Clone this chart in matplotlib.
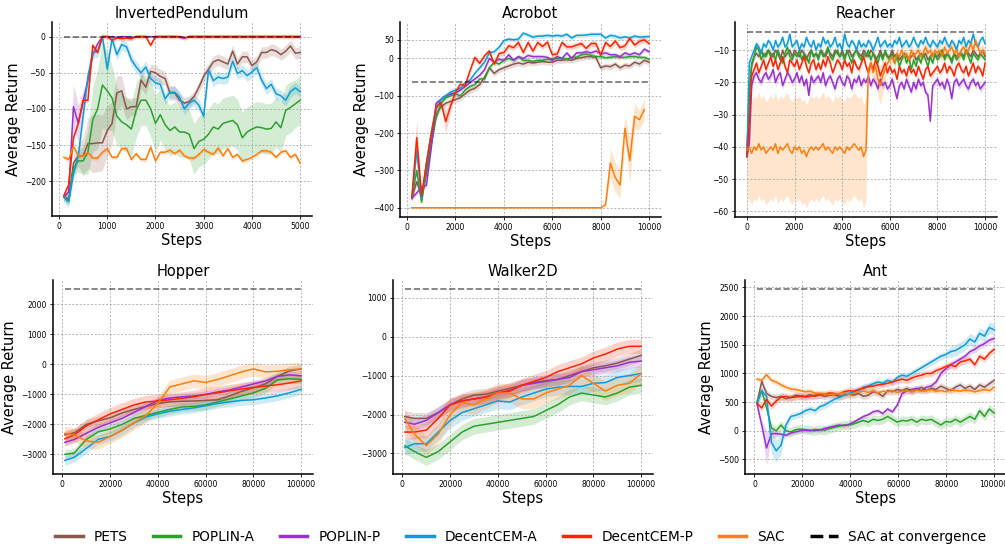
import numpy as np
import matplotlib
matplotlib.use('Agg')
import matplotlib.pyplot as plt
from matplotlib.lines import Line2D

methods = ['PETS', 'POPLIN-A', 'POPLIN-P', 'DecentCEM-A', 'DecentCEM-P', 'SAC']
colors = ['#8c564b', '#2ca02c', '#9932cc', '#0f9bd7', '#ff2400', '#ff7f0e']

# ---------------- InvertedPendulum ----------------
ip_x = np.arange(100, 5001, 100)
ip_conv = 0
ip_pets = [-222, -225, -175, -165, -165, -148, -148, -147, -147, -130,
           -120, -78, -75, -100, -97, -97, -60, -70, -48, -50,
           -55, -58, -78, -78, -88, -92, -90, -83, -70, -55,
           -45, -35, -32, -35, -38, -20, -38, -28, -28, -40,
           -35, -22, -22, -18, -20, -25, -20, -13, -23, -22]
ip_popa = [-222, -228, -182, -172, -172, -160, -115, -100, -67, -75,
           -85, -110, -118, -122, -128, -102, -88, -88, -100, -120,
           -108, -122, -130, -125, -132, -132, -135, -155, -145, -142,
           -135, -125, -128, -120, -118, -116, -122, -140, -132, -128,
           -125, -126, -128, -127, -118, -126, -102, -98, -93, -88]
ip_popp = [-222, -215, -97, -120, -90, -60, -25, -10, 0, 0,
           0, -1, 0, 0, -1, 0, 0, 0, 0, 0,
           0, 0, 0, 0, -1, -2, 0, 0, 0, 0,
           0, 0, 0, 0, 0, 0, 0, 0, 0, 0,
           0, 0, 0, 0, 0, 0, 0, 0, 0, 0]
ip_dcema = [-222, -228, -190, -165, -110, -55, -22, -21, 0, -45,
            -3, -25, -11, -14, -32, -42, -50, -42, -58, -64,
            -66, -86, -77, -77, -84, -100, -92, -88, -95, -110,
            -46, -61, -56, -58, -56, -34, -51, -47, -54, -49,
            -43, -60, -72, -66, -79, -82, -88, -76, -71, -76]
ip_dcemp = [-220, -205, -140, -120, -88, -88, -12, -22, 0, 0,
            -5, -2, -3, -2, -3, 0, 0, 0, -12, 0,
            0, 0, 0, 0, 0, -2, 0, 0, 0, 0,
            0, 0, 0, 0, 0, 0, 0, 0, 0, 0,
            0, 0, 0, 0, 0, 0, 0, 0, 0, 0]
ip_sac = [-167, -170, -152, -165, -165, -160, -168, -168, -160, -155,
          -167, -167, -155, -155, -170, -162, -170, -170, -153, -172,
          -160, -160, -157, -162, -157, -165, -168, -168, -163, -156,
          -160, -163, -154, -165, -155, -167, -163, -172, -170, -167,
          -163, -158, -158, -160, -167, -160, -158, -167, -163, -175]
ip_pets_sd = [5, 5, 10, 15, 25, 35, 40, 40, 38, 35,
              30, 25, 20, 15, 12, 12, 12, 10, 10, 10,
              10, 10, 10, 10, 10, 8, 8, 8, 8, 8,
              8, 8, 8, 8, 8, 8, 8, 8, 8, 8,
              8, 8, 8, 8, 8, 8, 8, 8, 8, 8]
ip_popa_sd = [5, 5, 10, 15, 20, 30, 45, 55, 60, 55,
              45, 40, 38, 38, 38, 38, 35, 35, 38, 40,
              35, 35, 35, 35, 35, 35, 35, 35, 35, 35,
              35, 35, 35, 35, 35, 35, 35, 35, 35, 35,
              35, 35, 35, 35, 35, 35, 35, 35, 33, 33]
ip_popp_sd = [5, 5, 30, 25, 15, 8, 5, 3, 1, 1,
              1, 1, 1, 1, 1, 1, 1, 1, 1, 1,
              1, 1, 1, 1, 1, 1, 1, 1, 1, 1,
              1, 1, 1, 1, 1, 1, 1, 1, 1, 1,
              1, 1, 1, 1, 1, 1, 1, 1, 1, 1]
ip_dcema_sd = 8
ip_dcemp_sd = 3
ip_sac_sd = 3

# ---------------- Acrobot ----------------
ac_x = np.arange(200, 10001, 200)
ac_sac_x = np.arange(200, 9801, 200)
ac_conv = -62
ac_pets = [-375, -330, -370, -310, -230, -150, -130, -120, -115, -110,
           -105, -95, -85, -80, -70, -50, -25, -40, -30, -25,
           -20, -15, -12, -15, -10, -12, -10, -8, -10, -10,
           -5, -5, -3, -5, 0, 2, 5, 5, 3, -25,
           -20, -22, -15, -25, -18, -20, -10, -15, -5, -10]
ac_popa = [-375, -300, -385, -300, -230, -160, -120, -105, -100, -95,
           -100, -85, -75, -70, -55, -55, -25, -10, -15, -5,
           0, -5, 5, -5, -5, -8, -5, -5, -2, 0,
           0, 0, -2, 3, 3, 10, 12, 8, 5, 5,
           2, 3, 5, 3, 3, 5, 5, 3, 3, -2]
ac_popp = [-375, -360, -345, -340, -240, -120, -110, -100, -95, -92,
           -85, -75, -65, -55, -45, -30, 0, -10, -2, -5,
           10, -5, 5, 0, 8, 5, 5, 5, 3, -5,
           5, 0, 15, 0, 15, 15, 18, 15, 20, 12,
           15, 10, 10, 5, 15, 10, 15, 10, 25, 18]
ac_dcema = [-375, -245, -375, -280, -200, -135, -110, -100, -90, -85,
            -80, -65, -58, -40, -25, -10, 15, 18, 30, 48,
            52, 50, 52, 68, 63, 57, 60, 60, 62, 60,
            62, 60, 65, 55, 62, 62, 63, 65, 65, 65,
            55, 62, 60, 55, 58, 55, 60, 57, 58, 59]
ac_dcemp = [-372, -212, -368, -283, -203, -131, -118, -169, -127, -91,
            -69, -73, -33, 3, -13, 7, 20, -15, 13, 16,
            34, 29, 43, 16, 43, 20, 43, 32, 44, 10,
            12, 43, 31, 31, 36, 40, 27, 40, 40, 9,
            43, 32, 47, 29, 34, 54, 36, 46, 50, 40]
ac_sac = [-400] * 40 + [-392, -280, -319, -339, -187, -274, -155, -164, -137]
ac_pets_sd = 8
ac_popa_sd = 6
ac_popp_sd = 6
ac_dcema_sd = [10, 20, 15, 30, 30, 20, 10, 8, 8, 8] + [6] * 40
ac_dcemp_sd = [10, 45, 15, 20, 20, 15, 10, 30, 15, 10] + [8] * 40
ac_sac_sd = [1] * 40 + [3, 40, 40, 35, 35, 60, 35, 25, 30]

# ---------------- Reacher ----------------
re_x = np.arange(0, 10001, 100)
re_conv = -4.4
re_pets = [-43, -24, -15, -12, -11, -12, -10, -12, -11, -10,
           -11, -12, -10, -11, -13, -10, -12, -11, -10, -12,
           -10, -11, -12, -10, -11, -13, -11, -10, -12, -11,
           -12, -10, -11, -12, -10, -11, -12, -10, -11, -12,
           -10, -12, -11, -10, -12, -11, -10, -11, -12, -10,
           -11, -12, -10, -11, -13, -12, -10, -12, -11, -12,
           -12, -10, -12, -11, -13, -12, -11, -12, -13, -12,
           -11, -13, -12, -11, -12, -11, -13, -12, -11, -12,
           -12, -11, -10, -12, -11, -12, -13, -11, -12, -11,
           -11, -12, -10, -11, -12, -10, -11, -12, -11, -10, -12]
re_popa = [-43, -22, -14, -12, -9, -10, -13, -11, -12, -10,
           -12, -11, -13, -10, -12, -14, -11, -9, -12, -13,
           -11, -12, -10, -13, -11, -12, -14, -10, -12, -11,
           -13, -10, -12, -11, -9, -12, -13, -11, -10, -12,
           -11, -13, -10, -12, -14, -11, -10, -12, -13, -11,
           -12, -10, -13, -11, -12, -14, -11, -13, -10, -12,
           -13, -11, -14, -12, -15, -13, -11, -14, -12, -16,
           -13, -15, -12, -14, -11, -13, -15, -12, -14, -11,
           -13, -12, -10, -13, -11, -12, -14, -11, -13, -12,
           -11, -13, -10, -12, -14, -11, -12, -13, -11, -12, -13]
re_popp = [-43, -39, -21, -18, -17, -19, -20, -18, -17, -19,
           -18, -16, -20, -18, -17, -21, -19, -17, -18, -20,
           -19, -17, -20, -18, -21, -19, -24, -18, -20, -19,
           -18, -20, -17, -21, -19, -18, -20, -22, -19, -18,
           -20, -21, -18, -19, -22, -19, -20, -18, -21, -19,
           -20, -18, -21, -19, -20, -22, -19, -21, -20, -22,
           -21, -19, -22, -25, -21, -20, -22, -19, -21, -23,
           -20, -22, -19, -21, -20, -23, -24, -32, -21, -20,
           -19, -21, -20, -22, -19, -21, -25, -20, -19, -21,
           -20, -19, -21, -22, -20, -19, -21, -20, -22, -21, -20]
re_dcema = [-43, -14, -12, -10, -8, -9, -11, -8, -9, -7,
            -8, -10, -7, -9, -8, -6, -9, -8, -5, -9,
            -8, -7, -10, -8, -9, -6, -8, -9, -7, -10,
            -8, -9, -6, -8, -7, -9, -8, -6, -9, -8,
            -10, -5, -8, -9, -7, -8, -10, -7, -9, -8,
            -9, -7, -8, -10, -8, -6, -9, -8, -7, -9,
            -8, -9, -7, -8, -6, -9, -8, -7, -9, -8,
            -6, -8, -9, -7, -8, -6, -8, -9, -7, -8,
            -9, -7, -8, -6, -8, -9, -7, -8, -10, -7,
            -8, -6, -9, -7, -8, -5, -8, -9, -7, -6, -8]
re_dcemp = [-43, -33, -18, -16, -14, -17, -15, -13, -16, -14,
            -12, -15, -13, -16, -14, -12, -15, -17, -13, -14,
            -15, -13, -16, -14, -12, -15, -17, -14, -13, -16,
            -14, -16, -13, -15, -12, -14, -17, -15, -13, -14,
            -16, -13, -15, -14, -17, -13, -15, -16, -14, -12,
            -15, -17, -14, -16, -13, -15, -18, -16, -14, -17,
            -15, -17, -16, -19, -15, -17, -16, -18, -15, -17,
            -16, -18, -15, -17, -19, -16, -15, -18, -17, -16,
            -15, -17, -16, -14, -17, -15, -16, -18, -15, -14,
            -16, -17, -15, -18, -16, -14, -17, -15, -16, -18, -14]
re_sac = [-41, -40, -42, -40, -41, -39, -41, -40, -42, -41,
          -40, -41, -39, -42, -40, -41, -40, -39, -41, -42,
          -40, -41, -40, -42, -41, -43, -41, -40, -41, -40,
          -41, -40, -39, -41, -40, -41, -42, -40, -41, -40,
          -41, -42, -40, -41, -40, -39, -40, -41, -40, -43,
          -41, -16, -14, -17, -15, -19, -21, -18, -16, -14,
          -13, -12, -14, -11, -12, -10, -12, -11, -13, -10,
          -12, -11, -10, -12, -11, -9, -11, -10, -12, -10,
          -11, -10, -12, -9, -11, -10, -9, -11, -10, -12,
          -10, -9, -11, -10, -8, -10, -7, -9, -11, -10, -11]
re_pets_sd = 1.0
re_popa_sd = 1.0
re_popp_sd = 1.2
re_dcema_sd = 1.0
re_dcemp_sd = 1.0
re_sac_sd = [16] * 51 + [2, 3, 3, 4, 5, 6, 5, 3, 3] + [2] * 41

# ---------------- Hopper ----------------
ho_x = np.array([1000, 5000, 10000, 15000, 20000, 25000, 30000, 35000, 40000, 45000, 50000,
                 55000, 60000, 65000, 70000, 75000, 80000, 85000, 90000, 95000, 100000])
ho_conv = 2520
ho_pets = [-2350, -2280, -2000, -1880, -1780, -1620, -1500, -1400, -1300, -1250, -1230,
           -1220, -1200, -1180, -1050, -900, -780, -650, -400, -220, -150]
ho_popa = [-3000, -2950, -2500, -2250, -2150, -2000, -1800, -1700, -1600, -1500, -1420,
           -1400, -1350, -1250, -1150, -1050, -950, -800, -520, -480, -500]
ho_popp = [-2600, -2500, -2300, -2100, -1950, -1800, -1600, -1400, -1200, -1120, -1080,
           -1050, -1000, -920, -850, -750, -650, -550, -400, -350, -380]
ho_dcema = [-3200, -3100, -2800, -2500, -2400, -2200, -1950, -1750, -1650, -1560, -1500,
            -1450, -1380, -1300, -1250, -1200, -1180, -1120, -1050, -950, -830]
ho_dcemp = [-2480, -2350, -2050, -1850, -1650, -1500, -1350, -1250, -1220, -1180, -1130,
            -1080, -1000, -950, -880, -820, -770, -720, -680, -620, -550]
ho_sac = [-2300, -2350, -2550, -2600, -2400, -2200, -1950, -1700, -1300, -750, -650,
          -550, -600, -500, -380, -250, -150, -250, -230, -180, -150]
ho_pets_sd = 150
ho_popa_sd = 150
ho_popp_sd = 120
ho_dcema_sd = 160
ho_dcemp_sd = 220
ho_sac_sd = 230

# ---------------- Walker2D ----------------
wa_x = ho_x
wa_conv = 1225
wa_pets = [-2050, -2100, -2100, -1950, -1750, -1600, -1500, -1480, -1400, -1330, -1250,
           -1180, -1130, -1100, -1000, -900, -800, -750, -680, -580, -480]
wa_popa = [-2800, -2950, -3100, -2950, -2700, -2450, -2300, -2250, -2200, -2150, -2100,
           -2050, -1900, -1750, -1550, -1450, -1500, -1550, -1450, -1300, -1250]
wa_popp = [-2200, -2250, -2150, -1950, -1750, -1650, -1600, -1550, -1450, -1400, -1250,
           -1200, -1150, -1100, -1050, -900, -850, -800, -750, -660, -630]
wa_dcema = [-2850, -2750, -2750, -2450, -2150, -1950, -1850, -1750, -1650, -1680, -1550,
            -1450, -1350, -1300, -1280, -1280, -1200, -1180, -1050, -1000, -950]
wa_dcemp = [-2450, -2450, -2400, -2100, -1750, -1650, -1600, -1550, -1450, -1380, -1250,
            -1150, -1050, -900, -800, -700, -550, -450, -320, -250, -250]
wa_sac = [-2100, -2500, -2800, -2500, -2000, -1700, -1750, -1600, -1450, -1450, -1600,
          -1600, -1450, -1350, -1250, -1000, -1200, -1400, -1250, -1200, -950]
wa_pets_sd = 150
wa_popa_sd = 200
wa_popp_sd = 150
wa_dcema_sd = 200
wa_dcemp_sd = 180
wa_sac_sd = 250

# ---------------- Ant ----------------
an_x = np.linspace(1000, 100000, 50)
an_conv = 2476
an_pets = [480, 860, 650, 600, 580, 600, 560, 580, 620, 610,
           600, 630, 600, 630, 600, 620, 630, 600, 620, 640,
           620, 650, 600, 620, 680, 660, 600, 700, 680, 720,
           700, 740, 680, 720, 760, 700, 740, 720, 780, 740,
           700, 760, 800, 740, 780, 720, 800, 760, 820, 880]
an_popa = [480, 700, 400, 50, 0, 100, 0, -20, 20, 30,
           20, 10, 0, 20, 10, 40, 60, 80, 100, 100,
           120, 150, 180, 150, 200, 180, 200, 250, 200, 150,
           180, 170, 200, 150, 200, 180, 200, 150, 100, 160,
           150, 200, 150, 200, 250, 200, 350, 250, 380, 310]
an_popp = [480, 100, -300, -50, -50, -60, -80, -40, -20, 0,
           10, 0, 20, 10, 40, 60, 80, 100, 90, 110,
           150, 200, 250, 280, 330, 350, 300, 380, 330, 450,
           650, 700, 720, 740, 700, 760, 780, 850, 1000, 1080,
           1150, 1200, 1250, 1300, 1380, 1420, 1480, 1520, 1580, 1610]
an_dcema = [480, 700, 600, -200, -350, -250, 100, 250, 270, 300,
            350, 380, 350, 420, 450, 500, 550, 580, 620, 650,
            680, 700, 760, 780, 820, 850, 830, 880, 850, 930,
            970, 950, 1000, 1050, 1100, 1150, 1200, 1250, 1300, 1330,
            1380, 1400, 1450, 1500, 1600, 1550, 1700, 1650, 1800, 1760]
an_dcemp = [480, 400, 550, 430, 520, 590, 600, 580, 590, 600,
            590, 600, 620, 630, 640, 660, 650, 640, 680, 700,
            690, 720, 740, 770, 780, 800, 810, 830, 850, 880,
            900, 880, 920, 950, 970, 1000, 1000, 1050, 1080, 1120,
            1150, 1120, 1200, 1220, 1250, 1150, 1300, 1250, 1350, 1420]
an_sac = [900, 880, 980, 880, 850, 800, 760, 730, 720, 700,
          680, 690, 660, 650, 640, 630, 640, 650, 660, 640,
          650, 680, 690, 670, 700, 660, 690, 680, 700, 670,
          690, 700, 680, 710, 690, 700, 720, 690, 700, 680,
          720, 700, 690, 710, 700, 680, 700, 720, 700, 760]
an_pets_sd = 60
an_popa_sd = 80
an_popp_sd = [60, 100, 300, 80, 60] + [40] * 25 + [60] * 20
an_dcema_sd = [60, 80, 120, 200, 200, 150, 80] + [60] * 33 + [100] * 10
an_dcemp_sd = 60
an_sac_sd = 50

panels = [
    ('InvertedPendulum', [ip_x] * 6,
     [ip_pets, ip_popa, ip_popp, ip_dcema, ip_dcemp, ip_sac],
     [ip_pets_sd, ip_popa_sd, ip_popp_sd, ip_dcema_sd, ip_dcemp_sd, ip_sac_sd], ip_conv, True, None),
    ('Acrobot', [ac_x] * 5 + [ac_sac_x],
     [ac_pets, ac_popa, ac_popp, ac_dcema, ac_dcemp, ac_sac],
     [ac_pets_sd, ac_popa_sd, ac_popp_sd, ac_dcema_sd, ac_dcemp_sd, ac_sac_sd], ac_conv, True,
     [-400, -300, -200, -100, 0, 50]),
    ('Reacher', [re_x] * 6,
     [re_pets, re_popa, re_popp, re_dcema, re_dcemp, re_sac],
     [re_pets_sd, re_popa_sd, re_popp_sd, re_dcema_sd, re_dcemp_sd, re_sac_sd], re_conv, False, None),
    ('Hopper', [ho_x] * 6,
     [ho_pets, ho_popa, ho_popp, ho_dcema, ho_dcemp, ho_sac],
     [ho_pets_sd, ho_popa_sd, ho_popp_sd, ho_dcema_sd, ho_dcemp_sd, ho_sac_sd], ho_conv, True, None),
    ('Walker2D', [wa_x] * 6,
     [wa_pets, wa_popa, wa_popp, wa_dcema, wa_dcemp, wa_sac],
     [wa_pets_sd, wa_popa_sd, wa_popp_sd, wa_dcema_sd, wa_dcemp_sd, wa_sac_sd], wa_conv, False, None),
    ('Ant', [an_x] * 6,
     [an_pets, an_popa, an_popp, an_dcema, an_dcemp, an_sac],
     [an_pets_sd, an_popa_sd, an_popp_sd, an_dcema_sd, an_dcemp_sd, an_sac_sd], an_conv, True, None),
]

# axes boxes in pixels: left, top, right, bottom
boxes = [(52, 22, 312, 216), (400, 22, 661, 217), (735, 22, 997, 217),
         (53, 280, 313, 474), (393, 280, 653, 474), (745, 280, 1006, 474)]

W, H = 1005, 544
fig = plt.figure(figsize=(W / 100, H / 100), dpi=100)

for (title, xs, ms, sds, conv, ylab, yt), (l, t, r, b) in zip(panels, boxes):
    ax = fig.add_axes([l / W, 1 - b / H, (r - l) / W, (b - t) / H])
    for x, m, sd, c in zip(xs, ms, sds, colors):
        m = np.asarray(m, dtype=float)
        sd = np.broadcast_to(np.asarray(sd, dtype=float), m.shape)
        ax.fill_between(x, m - sd, m + sd, color=c, alpha=0.2, lw=0)
        ax.plot(x, m, color=c, lw=1.1)
    xall = np.concatenate(xs)
    ax.plot([xall.min(), xall.max()], [conv, conv], color='k', ls='--', lw=1.2, alpha=0.55)
    if yt is not None:
        ax.set_yticks(yt)
    ax.set_title(title, fontsize=10.5, pad=3)
    ax.set_xlabel('Steps', fontsize=10.5, labelpad=1)
    if ylab:
        ax.set_ylabel('Average Return', fontsize=10.5, labelpad=3)
    ax.tick_params(labelsize=5.5, length=2.5, width=0.6, pad=2)
    ax.grid(True, ls=(0, (2.5, 2)), color='#999999', lw=0.6, alpha=0.8)
    for s in ['top', 'right']:
        ax.spines[s].set_visible(False)
    for s in ['left', 'bottom']:
        ax.spines[s].set_linewidth(1.1)

handles = [Line2D([], [], color=c, lw=2.5) for c in colors]
handles.append(Line2D([], [], color='k', lw=2.5, ls='--'))
labels = methods + ['SAC at convergence']
fig.legend(handles, labels, loc='center', bbox_to_anchor=(521 / W, 1 - 537 / H), ncol=7,
           frameon=False, fontsize=9.8, handlelength=2.0, handletextpad=0.8, columnspacing=1.9)

fig.savefig('out.png', dpi=100)
